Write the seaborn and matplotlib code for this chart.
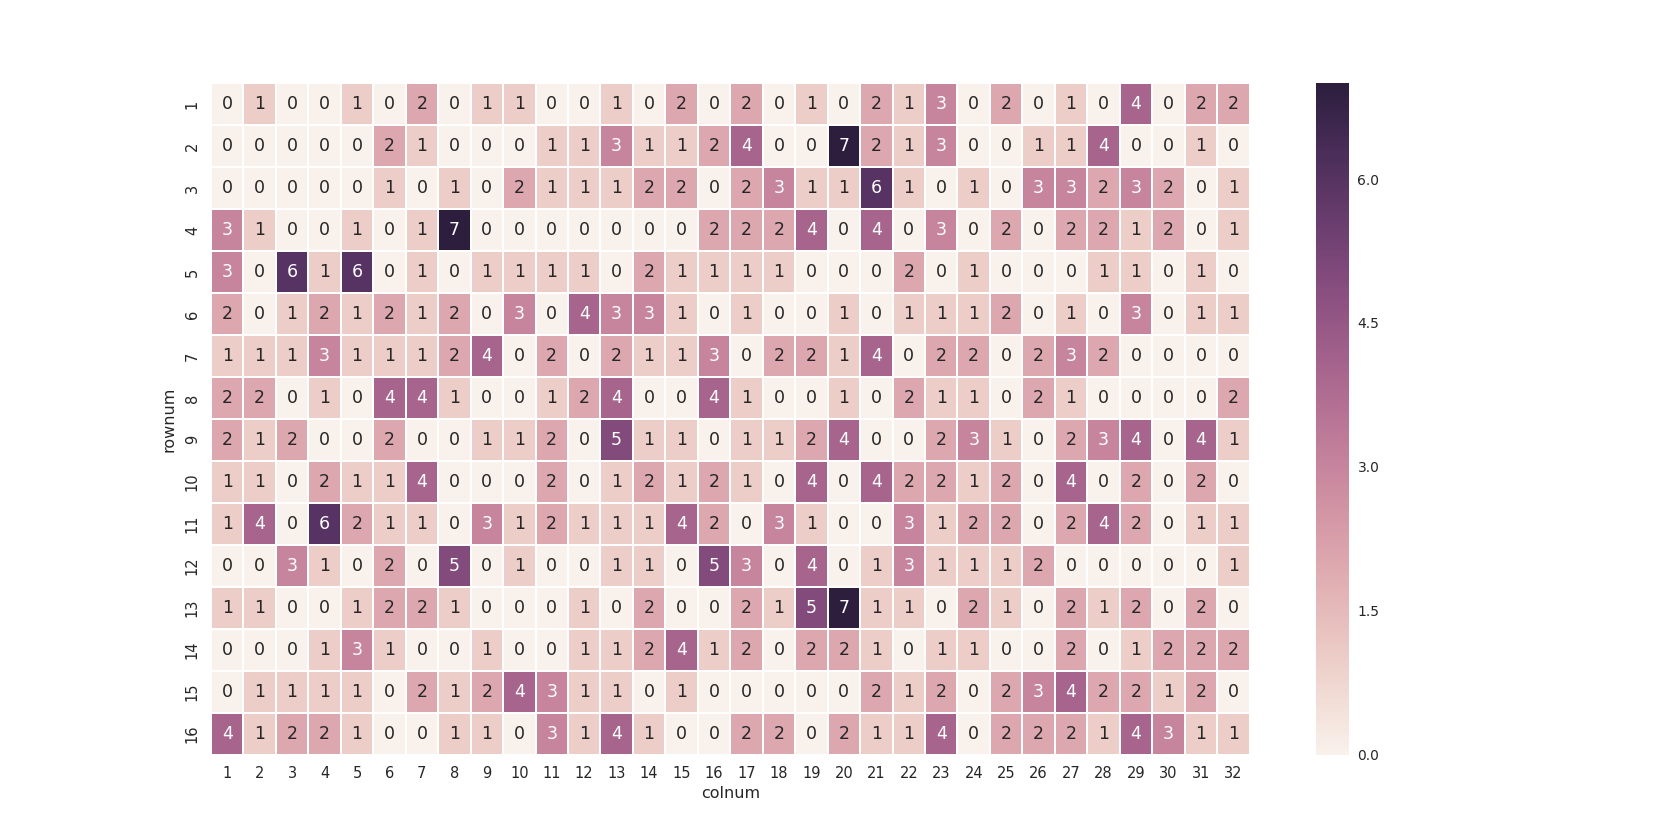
import numpy as np
import pandas as pd
import matplotlib
matplotlib.use("Agg")
import matplotlib.pyplot as plt
import seaborn as sns

rows = list(range(1, 17))
cols = list(range(1, 33))

r1 = [0,1,0,0,1,0,2,0,1,1,0,0,1,0,2,0, 2,0,1,0,2,1,3,0,2,0,1,0,4,0,2,2]
r2 = [0,0,0,0,0,2,1,0,0,0,1,1,3,1,1,2, 4,0,0,7,2,1,3,0,0,1,1,4,0,0,1,0]
r3 = [0,0,0,0,0,1,0,1,0,2,1,1,1,2,2,0, 2,3,1,1,6,1,0,1,0,3,3,2,3,2,0,1]
r4 = [3,1,0,0,1,0,1,7,0,0,0,0,0,0,0,2, 2,2,4,0,4,0,3,0,2,0,2,2,1,2,0,1]
r5 = [3,0,6,1,6,0,1,0,1,1,1,1,0,2,1,1, 1,1,0,0,0,2,0,1,0,0,0,1,1,0,1,0]
r6 = [2,0,1,2,1,2,1,2,0,3,0,4,3,3,1,0, 1,0,0,1,0,1,1,1,2,0,1,0,3,0,1,1]
r7 = [1,1,1,3,1,1,1,2,4,0,2,0,2,1,1,3, 0,2,2,1,4,0,2,2,0,2,3,2,0,0,0,0]
r8 = [2,2,0,1,0,4,4,1,0,0,1,2,4,0,0,4, 1,0,0,1,0,2,1,1,0,2,1,0,0,0,0,2]
r9 = [2,1,2,0,0,2,0,0,1,1,2,0,5,1,1,0, 1,1,2,4,0,0,2,3,1,0,2,3,4,0,4,1]
r10 = [1,1,0,2,1,1,4,0,0,0,2,0,1,2,1,2, 1,0,4,0,4,2,2,1,2,0,4,0,2,0,2,0]
r11 = [1,4,0,6,2,1,1,0,3,1,2,1,1,1,4,2, 0,3,1,0,0,3,1,2,2,0,2,4,2,0,1,1]
r12 = [0,0,3,1,0,2,0,5,0,1,0,0,1,1,0,5, 3,0,4,0,1,3,1,1,1,2,0,0,0,0,0,1]
r13 = [1,1,0,0,1,2,2,1,0,0,0,1,0,2,0,0, 2,1,5,7,1,1,0,2,1,0,2,1,2,0,2,0]
r14 = [0,0,0,1,3,1,0,0,1,0,0,1,1,2,4,1, 2,0,2,2,1,0,1,1,0,0,2,0,1,2,2,2]
r15 = [0,1,1,1,1,0,2,1,2,4,3,1,1,0,1,0, 0,0,0,0,2,1,2,0,2,3,4,2,2,1,2,0]
r16 = [4,1,2,2,1,0,0,1,1,0,3,1,4,1,0,0, 2,2,0,2,1,1,4,0,2,2,2,1,4,3,1,1]

values = [r1, r2, r3, r4, r5, r6, r7, r8, r9, r10, r11, r12, r13, r14, r15, r16]
cbar_ticks = [0.0, 1.5, 3.0, 4.5, 6.0]

df = pd.DataFrame(values, index=pd.Index(rows, name="rownum"),
                  columns=pd.Index(cols, name="colnum"))

sns.set_style("white")
plt.rcParams['font.family'] = ['DejaVu Sans']
plt.rcParams['text.color'] = '.15'
plt.rcParams['axes.labelcolor'] = '.15'
plt.rcParams['xtick.color'] = '.15'
plt.rcParams['ytick.color'] = '.15'

fig = plt.figure(figsize=(16.78, 8.4), dpi=100)
ax = fig.add_axes([0.1257, 0.1017, 0.619, 0.7993])
cax = fig.add_axes([0.7843, 0.1017, 0.0197, 0.7993])

cmap = sns.cubehelix_palette(light=.95, as_cmap=True)
sns.heatmap(df, ax=ax, cbar_ax=cax, cmap=cmap, annot=True, fmt="d",
            linewidths=1.2, linecolor="white", vmin=0, vmax=7,
            annot_kws={"fontsize": 12.5},
            cbar_kws={"ticks": cbar_ticks, "format": "%.1f"})

ax.tick_params(axis="both", length=0, labelsize=10.5, pad=8)
plt.setp(ax.get_yticklabels(), rotation=90, va="center")
plt.setp(ax.get_xticklabels(), rotation=0)
ax.set_xlabel("colnum", fontsize=11.5, labelpad=4)
ax.set_ylabel("rownum", fontsize=11.5, labelpad=6)
cax.tick_params(length=0, labelsize=10, pad=6)
cb = ax.collections[0].colorbar
if cb is not None:
    cb.outline.set_visible(False)

fig.savefig("out.png", dpi=100)
